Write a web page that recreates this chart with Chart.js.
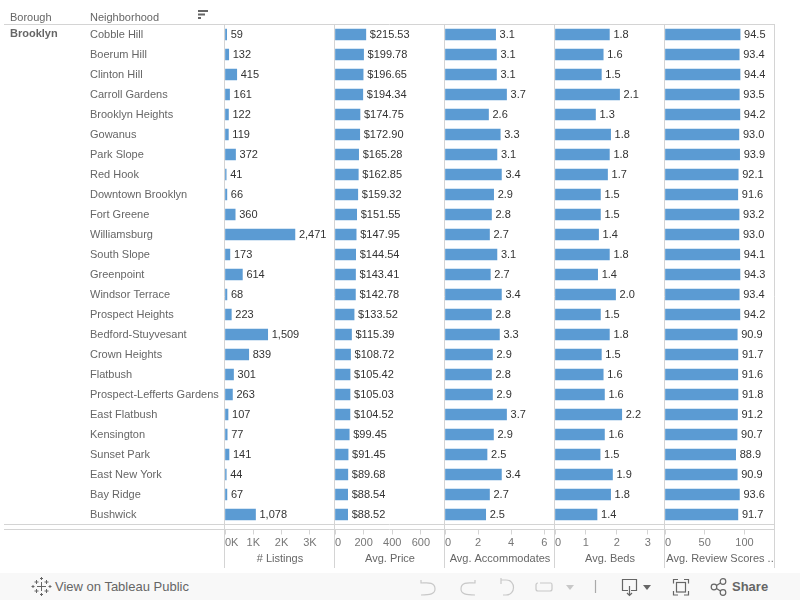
<!DOCTYPE html>
<html>
<head>
<meta charset="utf-8">
<title>Brooklyn neighborhoods</title>
<script src="https://cdn.jsdelivr.net/npm/chart.js@4/dist/chart.umd.min.js"></script>
<style>
  html, body { margin: 0; padding: 0; background: #fff; overflow: hidden; }
  body { width: 800px; height: 600px; position: relative; font-family: "Liberation Sans", Arial, sans-serif; }
  canvas { position: absolute; left: 0; top: 0; }
  .hdr { position: absolute; font-size: 11px; line-height: 13px; color: #666; white-space: nowrap; }
  #toolbar { position: absolute; left: 0; top: 573px; width: 800px; height: 27px; background: #f8f8f8; }
  #toolbar span { position: absolute; top: 6px; font-size: 13px; line-height: 15px; color: #666; white-space: nowrap; }
  #toolbar svg { position: absolute; left: 0; top: 0; }
</style>
</head>
<body>
<canvas id="listingsChart" width="800" height="570"></canvas>

<div class="hdr" style="left:10px;top:11px">Borough</div>
<div class="hdr" style="left:90px;top:11px">Neighborhood</div>
<div class="hdr" style="left:10px;top:27px;font-weight:bold">Brooklyn</div>
<svg style="position:absolute;left:197px;top:9px" width="12" height="11">
  <rect x="1" y="1" width="10" height="2" fill="#666"/>
  <rect x="1" y="4.5" width="7" height="2" fill="#666"/>
  <rect x="1" y="8" width="3" height="2" fill="#666"/>
</svg>

<div id="toolbar">
  <svg width="800" height="27" fill="none" stroke-width="1.2">
    <g stroke="#666" stroke-width="1">
      <path d="M41.500 9v9M37 13.500h9"/>
      <path d="M36.500 7v4M34.500 9h4M46.500 7v4M44.500 9h4M36.500 16v4M34.500 18h4M46.500 16v4M44.500 18h4"/>
      <path d="M41.500 4v3M40 5.500h3M41.500 20v3M40 21.500h3M33 12v3M31.500 13.500h3M50 12v3M48.500 13.500h3"/>
    </g>
    <g stroke="#c8c8c8">
      <path d="M421 7v3h3M421 10c5 0 14-2 14 6c0 5-5 6-14 6"/>
      <path d="M475 7v3h-3M475 10c-5 0-14-2-14 6c0 5 5 6 14 6"/>
      <path d="M501 5v6M501 7h5c10 0 10 15 0 15h-3"/>
      <path d="M540 10h11c1 0 1 1 1 2v4c0 2-1 2-2 2h-12c-1 0-2-1-2-2v-4c0-1 1-2 2-2"/>
      <path d="M595.500 7v13" stroke="#aaa"/>
    </g>
    <path d="M566 12h8l-4 5z" fill="#c8c8c8"/>
    <g stroke="#666">
      <path d="M628 17.500h-5.500V6.500h14v11h-5.500M629.500 13v9M627 20l2.500 2.500 2.500-2.500"/>
      <path d="M678 6.500h-4.500v4M684 6.500h4.500v4M678 22h-4.500v-4M684 22h4.500v-4"/>
      <rect x="676.500" y="9.500" width="9" height="9.500"/>
      <circle cx="714" cy="14" r="2.800"/><circle cx="723" cy="8.500" r="2.800"/><circle cx="723" cy="19.500" r="2.800"/>
      <path d="M716.500 12.500l4-2.500M716.500 15.500l4 2.500"/>
    </g>
    <path d="M643 12h8l-4 5z" fill="#666"/>
  </svg>
  <span style="left:55px">View on Tableau Public</span>
  <span style="left:732px;font-weight:bold">Share</span>
</div>

<script>
// neighborhoods, sorted by avg. price like the original view
const neighborhoods = ['Cobble Hill', 'Boerum Hill', 'Clinton Hill', 'Carroll Gardens', 'Brooklyn Heights',
  'Gowanus', 'Park Slope', 'Red Hook', 'Downtown Brooklyn', 'Fort Greene', 'Williamsburg', 'South Slope',
  'Greenpoint', 'Windsor Terrace', 'Prospect Heights', 'Bedford-Stuyvesant', 'Crown Heights', 'Flatbush',
  'Prospect-Lefferts Gardens', 'East Flatbush', 'Kensington', 'Sunset Park', 'East New York', 'Bay Ridge', 'Bushwick'];

const listings = [59, 132, 415, 161, 122, 119, 372, 41, 66, 360, 2471, 173, 614, 68, 223, 1509, 839, 301, 263, 107, 77, 141, 44, 67, 1078];
const avgPrice = [215.53, 199.78, 196.65, 194.34, 174.75, 172.90, 165.28, 162.85, 159.32, 151.55, 147.95, 144.54, 143.41,
  142.78, 133.52, 115.39, 108.72, 105.42, 105.03, 104.52, 99.45, 91.45, 89.68, 88.54, 88.52];
const avgAccommodates = [3.06, 3.11, 3.11, 3.72, 2.63, 3.34, 3.14, 3.41, 2.94, 2.81, 2.69, 3.14, 2.74, 3.41, 2.81, 3.29, 2.87, 2.81, 2.87, 3.72, 2.93, 2.54, 3.41, 2.69, 2.46];
const avgBeds = [1.76, 1.56, 1.50, 2.09, 1.31, 1.80, 1.76, 1.70, 1.47, 1.47, 1.41, 1.76, 1.38, 1.96, 1.47, 1.76, 1.50, 1.56, 1.60, 2.16, 1.60, 1.46, 1.86, 1.80, 1.36];
const avgReview = [94.5, 93.4, 94.4, 93.5, 94.2, 93.0, 93.9, 92.1, 91.6, 93.2, 93.0, 94.1, 94.3, 93.4, 94.2, 90.9, 91.7, 91.6, 91.8, 91.2, 90.7, 88.9, 90.9, 93.6, 91.7];

// axis ticks
const listingsTicks = [0, 1000, 2000, 3000];
const priceTicks = [0, 200, 400, 600];
const accommodatesTicks = [0, 2, 4, 6];
const bedsTicks = [0, 1, 2, 3];
const reviewTicks = [0, 50, 100];

const BAR_COLOR = '#5b9bd3';
const LINE_COLOR = '#d4d4d4';
const FONT = '"Liberation Sans", Arial, sans-serif';

// one column per measure
const columns = [
  { id: 'xListings', title: '# Listings', values: listings, ticks: listingsTicks, max: 3887,
    tickText: v => (v / 1000) + 'K', label: v => v.toLocaleString('en-US') },
  { id: 'xPrice', title: 'Avg. Price', values: avgPrice, ticks: priceTicks, max: 769,
    tickText: v => String(v), label: v => '$' + v.toFixed(2) },
  { id: 'xAccommodates', title: 'Avg. Accommodates', values: avgAccommodates, ticks: accommodatesTicks, max: 6.65,
    tickText: v => String(v), label: v => v.toFixed(1) },
  { id: 'xBeds', title: 'Avg. Beds', values: avgBeds, ticks: bedsTicks, max: 3.56,
    tickText: v => String(v), label: v => v.toFixed(1) },
  { id: 'xReview', title: 'Avg. Review Scores ..', values: avgReview, ticks: reviewTicks, max: 138.4,
    tickText: v => String(v), label: v => v.toFixed(1) }
];

const scales = {
  y: {
    position: 'left',
    grid: { display: false },
    border: { display: false },
    afterFit: s => { s.width = 135; },
    ticks: { autoSkip: false, crossAlign: 'far', color: '#666', font: { family: FONT, size: 11 } }
  }
};

columns.forEach(c => {
  scales[c.id] = {
    type: 'linear',
    position: 'bottom',
    stack: 'measures',
    stackWeight: 1,
    min: 0,
    max: c.max,
    border: { display: false },
    grid: {
      drawOnChartArea: false,
      tickLength: 5,
      tickColor: ctx => (ctx.tick && ctx.tick.value === c.max ? 'rgba(0,0,0,0)' : LINE_COLOR)
    },
    // the extra tick at the far end stays blank, it only keeps the 0 label inside the column
    afterBuildTicks: axis => { axis.ticks = c.ticks.map(v => ({ value: v })).concat({ value: c.max }); },
    afterFit: s => { s.height = 45.5; },
    ticks: {
      autoSkip: false,
      maxRotation: 0,
      align: 'inner',
      padding: 2,
      color: '#777',
      font: { family: FONT, size: 11 },
      callback: v => (v === c.max ? '' : c.tickText(v))
    },
    title: {
      display: true,
      text: c.title,
      color: '#666',
      font: { family: FONT, size: 11 },
      padding: { top: 0, bottom: 4 }
    }
  };
});

// table rules + value labels
const tablePlugin = {
  id: 'tablePlugin',
  afterLayout(chart) {
    // gap between the two bottom rules
    columns.forEach(c => { chart.scales[c.id].top += 5; });
  },
  beforeDatasetsDraw(chart) {
    const ctx = chart.ctx;
    const area = chart.chartArea;
    ctx.save();
    ctx.strokeStyle = LINE_COLOR;
    ctx.lineWidth = 1;
    ctx.beginPath();
    [area.top, area.bottom, area.bottom + 5].forEach(y => {
      ctx.moveTo(4, y);
      ctx.lineTo(area.right, y);
    });
    columns.forEach(c => {
      const x = chart.scales[c.id].left - 0.5;
      ctx.moveTo(x, area.top);
      ctx.lineTo(x, 568);
    });
    ctx.moveTo(area.right - 0.5, area.top);
    ctx.lineTo(area.right - 0.5, 568);
    ctx.stroke();
    ctx.restore();
  },
  afterDatasetsDraw(chart) {
    const ctx = chart.ctx;
    ctx.save();
    ctx.fillStyle = '#333';
    ctx.font = '11px ' + FONT;
    ctx.textBaseline = 'middle';
    ctx.textAlign = 'left';
    columns.forEach((c, i) => {
      chart.getDatasetMeta(i).data.forEach((bar, j) => {
        ctx.fillText(c.label(c.values[j]), bar.x + 4, bar.y);
      });
    });
    ctx.restore();
  }
};

const listingsChart = new Chart(document.getElementById('listingsChart'), {
  type: 'bar',
  data: {
    labels: neighborhoods,
    datasets: columns.map(c => ({
      label: c.title,
      data: c.values,
      xAxisID: c.id,
      yAxisID: 'y',
      grouped: false,
      barThickness: 11,
      backgroundColor: BAR_COLOR
    }))
  },
  options: {
    indexAxis: 'y',
    responsive: false,
    animation: false,
    layout: { padding: { left: 90, right: 25, top: 24.5, bottom: 0 } },
    scales: scales,
    plugins: {
      legend: { display: false },
      title: { display: false },
      tooltip: { enabled: false }
    }
  },
  plugins: [tablePlugin]
});
</script>
</body>
</html>
